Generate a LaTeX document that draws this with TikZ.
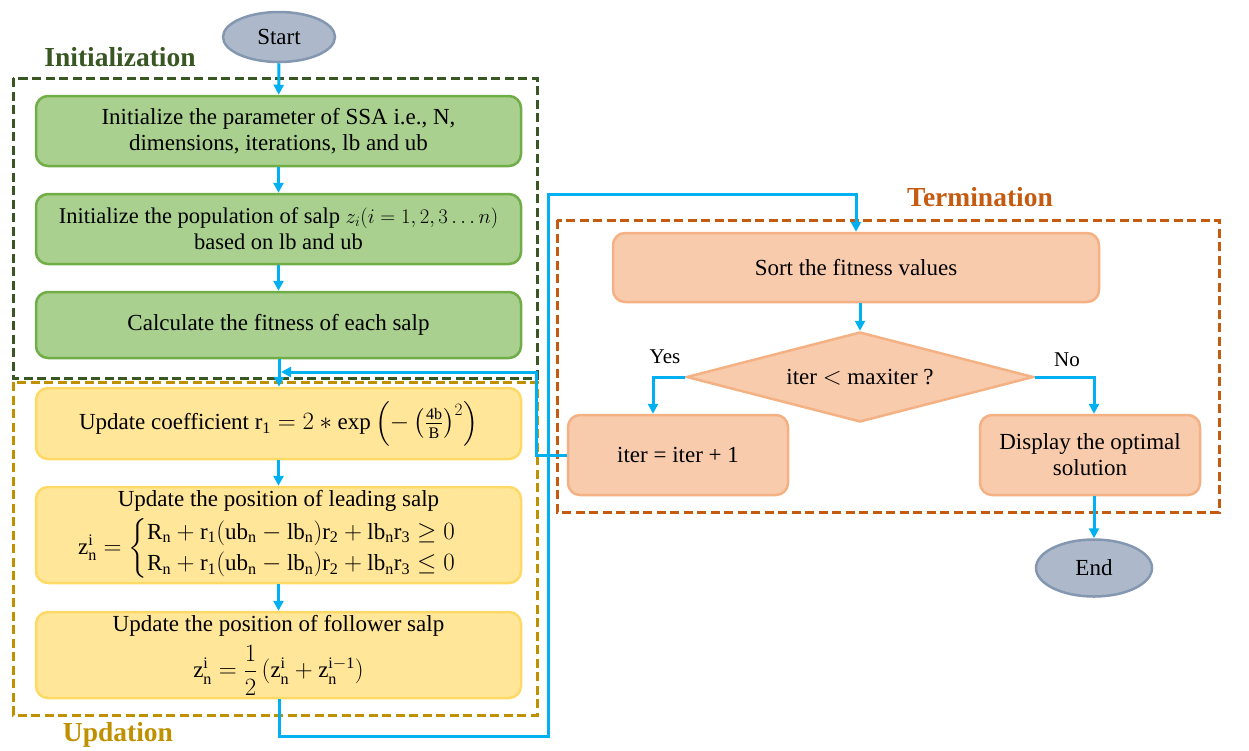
\documentclass[tikz,border=0pt]{standalone}
\usepackage{amsmath}
\usepackage{fontspec}
\setmainfont{Liberation Serif}
\usetikzlibrary{arrows.meta,shapes.geometric}
\definecolor{cblue}{HTML}{00B0F0}
\definecolor{gfill}{HTML}{A9D08E}
\definecolor{gdraw}{HTML}{70AD47}
\definecolor{yfill}{HTML}{FFE699}
\definecolor{ydraw}{HTML}{FFD966}
\definecolor{ofill}{HTML}{F8CBAD}
\definecolor{odraw}{HTML}{F4B183}
\definecolor{efill}{HTML}{ADB9CA}
\definecolor{edraw}{HTML}{8497B0}
\definecolor{initc}{HTML}{385723}
\definecolor{updc}{HTML}{BF9000}
\definecolor{termc}{HTML}{C55A11}
\tikzset{
  txt/.style={font=\fontsize{23}{26}\selectfont, align=center, inner sep=0pt},
  gbox/.style={txt, rounded corners=12pt, fill=gfill, draw=gdraw, line width=2.5pt, minimum width=485pt},
  ybox/.style={txt, rounded corners=12pt, fill=yfill, draw=ydraw, line width=2.5pt, minimum width=485pt},
  obox/.style={txt, rounded corners=12pt, fill=ofill, draw=odraw, line width=2.5pt},
  term/.style={txt, ellipse, fill=efill, draw=edraw, line width=2.5pt},
  conn/.style={draw=cblue, line width=3pt, -{Triangle[length=10pt,width=10pt]}},
  frame/.style={line width=3pt, dash pattern=on 9pt off 4.5pt},
  phase/.style={font=\fontsize{27.5}{32}\selectfont\bfseries, inner sep=0pt},
  lbl/.style={font=\fontsize{21}{24}\selectfont, inner sep=0pt}
}
\begin{document}
\begin{tikzpicture}[x=1pt,y=-1pt]
\useasboundingbox (0,0) rectangle (1249,750);
% frames
\draw[frame, initc] (13,78) rectangle (537,378);
\draw[frame, updc] (13,382) rectangle (537,715);
\draw[frame, termc] (557,220) rectangle (1219,512);
\node[phase, text=initc] (linit) at (120,57) {Initialization};
\node[phase, text=updc] (lupd) at (118,735) {Updation};
\node[phase, text=termc] (lterm) at (980,197) {Termination};
% nodes
\node[term, minimum width=112pt, minimum height=50pt] (start) at (279,37) {Start};
\node[gbox, minimum height=70pt] (b1) at (278.5,131) {Initialize the parameter of SSA i.e., N,\\ dimensions, iterations, lb and ub};
\node[gbox, minimum height=70pt, font=\fontsize{22.5}{26}\selectfont] (b2) at (278.5,229) {Initialize the population of salp $z_i(i=1,2,3\ldots n)$\\ based on lb and ub};
\node[gbox, minimum height=66pt] (b3) at (278.5,325) {Calculate the fitness of each salp};
\node[ybox, minimum height=71pt] (b4) at (278.5,423.5) {Update coefficient $\mathrm{r_1} = 2 * \exp\left(-\left(\tfrac{\mathrm{4b}}{\mathrm{B}}\right)^{2}\right)$};
\node[ybox, minimum height=96pt] (b5) at (278.5,535) {Update the position of leading salp\\[5pt]
{\def\arraystretch{0.85}$\mathrm{z_n^i} = \begin{cases}\mathrm{R_n + r_1(ub_n - lb_n)r_2 + lb_n r_3} \geq 0\\ \mathrm{R_n + r_1(ub_n - lb_n)r_2 + lb_n r_3} \leq 0\end{cases}$}};
\node[ybox, minimum height=86pt] (b6) at (278.5,655) {Update the position of follower salp\\[8pt]
$\mathrm{z_n^i} = \dfrac{1}{2}\left(\mathrm{z_n^i + z_n^{i-1}}\right)$};
\node[obox, minimum width=486pt, minimum height=69pt] (sort) at (856,267.5) {Sort the fitness values};
\node[txt, diamond, aspect=3.85, fill=ofill, draw=odraw, line width=2.5pt, minimum width=347pt, minimum height=90pt] (dec) at (860,377) {iter $<$ maxiter ?};
\node[obox, minimum width=220pt, minimum height=80pt] (iter) at (678,455) {iter = iter + 1};
\node[obox, minimum width=220pt, minimum height=80pt] (disp) at (1090,455) {Display the optimal\\ solution};
\node[term, minimum width=116pt, minimum height=57pt] (end) at (1094,568) {End};
\node[lbl] (yes) at (665,357) {Yes};
\node[lbl] (no) at (1067,360) {No};
% connectors
\coordinate (j1) at (279,372);
\draw[conn] (start) -- (b1);
\draw[conn] (b1) -- (b2);
\draw[conn] (b2) -- (b3);
\draw[conn] (b3.south -| j1) -- (b4.north -| j1);
\draw[conn] (b4) -- (b5);
\draw[conn] (b5) -- (b6);
\draw[conn] (b6.south -| j1) -- (279,736) -- (548,736) -- (548,194) -| (sort.north);
\draw[conn] (iter.west) -- (536,455) -- (536,372) -- ([xshift=2pt]j1);
\draw[conn] (sort.south -| dec.north) -- (dec.north);
\draw[conn] (dec.west) -| (iter.north -| 653,0);
\draw[conn] (dec.east) -| (disp.north -| 1094,0);
\draw[conn] (disp.south -| end.north) -- (end.north);
\end{tikzpicture}
\end{document}
